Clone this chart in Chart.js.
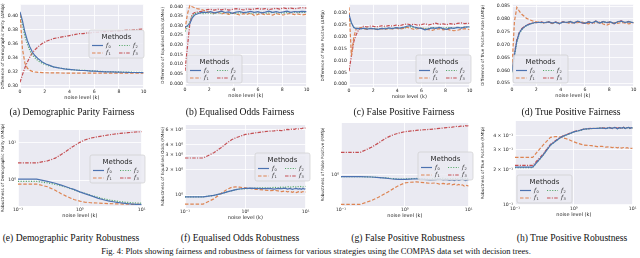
<!DOCTYPE html>
<html>
<head>
<meta charset="utf-8">
<script src="https://cdn.jsdelivr.net/npm/chart.js@4.4.0/dist/chart.umd.min.js"></script>
<style>
  body { margin:0; width:640px; height:258px; background:#fff; position:relative; overflow:hidden; font-family:"Liberation Serif", "DejaVu Serif", serif; }
  canvas { position:absolute; }
  .cap { position:absolute; font-size:9.6px; line-height:10px; color:#111; white-space:nowrap; transform:translateX(-50%); }
  .cap.fig { font-size:8.5px; }
</style>
</head>
<body>
<script>
// noise levels on the x axis
const noiseTop = [0,0.2,0.4,0.6,0.8,1,1.2,1.5,1.8,2.1,2.4,2.7,3,3.3,3.6,3.9,4.2,4.5,4.8,5.1,5.4,5.7,6,6.3,6.6,6.9,7.2,7.5,7.8,8.1,8.4,8.7,9,9.3,9.6,10];
const noiseBottom = [0.1,0.2,0.3,0.4,0.5,0.6,0.7,0.8,1,1.2,1.5,2,2.5,3,3.5,4,4.5,5,5.5,6,6.5,7,7.5,8,8.5,9,9.5,10];
const methods = ['0','1','2','3'];

// (a) demographic parity fairness
const dpFair0 = [0.405,0.392,0.376,0.364,0.355,0.348,0.343,0.338,0.334,0.331,0.329,0.327,0.326,0.325,0.324,0.3235,0.323,0.3225,0.322,0.3218,0.3215,0.321,0.321,0.3205,0.3202,0.320,0.320,0.3198,0.3196,0.3195,0.3193,0.3192,0.319,0.319,0.319,0.3188];
const dpFair1 = [0.402,0.352,0.332,0.325,0.322,0.3205,0.3198,0.3192,0.3188,0.3186,0.3185,0.3184,0.3183,0.3183,0.3182,0.3182,0.3181,0.3181,0.318,0.318,0.318,0.318,0.318,0.318,0.318,0.318,0.318,0.318,0.318,0.318,0.318,0.318,0.318,0.318,0.318,0.318];
const dpFair2 = [0.402,0.386,0.370,0.359,0.350,0.344,0.340,0.335,0.332,0.330,0.328,0.327,0.326,0.325,0.324,0.3235,0.323,0.3225,0.3222,0.322,0.3218,0.3215,0.321,0.3208,0.3205,0.3203,0.320,0.320,0.3198,0.3197,0.3196,0.3195,0.3194,0.3193,0.3192,0.319];
const dpFair3 = [0.305,0.316,0.326,0.334,0.341,0.347,0.351,0.356,0.360,0.363,0.365,0.367,0.368,0.369,0.370,0.371,0.372,0.373,0.374,0.374,0.375,0.375,0.376,0.376,0.3765,0.377,0.377,0.3775,0.378,0.378,0.3785,0.379,0.379,0.3795,0.380,0.3805];

// (b) equalised odds fairness
const eoFair0 = [0.029,0.030,0.031,0.034,0.0355,0.036,0.0365,0.037,0.0368,0.0372,0.0366,0.037,0.0375,0.0368,0.0371,0.0364,0.037,0.0373,0.0367,0.037,0.0374,0.0369,0.0372,0.0366,0.037,0.0375,0.0369,0.0372,0.0368,0.0371,0.0375,0.0369,0.0373,0.0371,0.0374,0.0372];
const eoFair1 = [0.028,0.036,0.0405,0.0398,0.0392,0.0388,0.0385,0.038,0.0372,0.0368,0.0365,0.037,0.036,0.0366,0.0358,0.0364,0.036,0.0355,0.0362,0.0358,0.0365,0.0352,0.0358,0.0362,0.0356,0.036,0.0354,0.0362,0.0358,0.0355,0.036,0.0363,0.0357,0.036,0.0355,0.0359];
const eoFair2 = [0.027,0.029,0.032,0.035,0.0362,0.0365,0.0368,0.0362,0.0366,0.0364,0.0361,0.0367,0.0363,0.0368,0.036,0.0366,0.0362,0.0368,0.0364,0.0366,0.0362,0.0367,0.0364,0.0368,0.0363,0.0366,0.0369,0.0364,0.0367,0.0365,0.0368,0.0366,0.037,0.0367,0.0369,0.0368];
const eoFair3 = [0.0065,0.019,0.031,0.036,0.0368,0.037,0.0372,0.0375,0.0383,0.0384,0.038,0.0385,0.0382,0.0386,0.038,0.0384,0.0388,0.0385,0.0381,0.0387,0.0384,0.0386,0.0389,0.0385,0.0388,0.0383,0.0387,0.039,0.0386,0.0392,0.0388,0.0391,0.0387,0.039,0.0393,0.0391];

// (c) false positive fairness
const fpFair0 = [0.0295,0.026,0.024,0.0235,0.0236,0.0234,0.0237,0.0233,0.0236,0.0234,0.0232,0.0236,0.0234,0.0238,0.0235,0.0239,0.0237,0.024,0.0245,0.0248,0.0242,0.0238,0.0236,0.023,0.0234,0.0238,0.0236,0.024,0.0235,0.0232,0.0238,0.0236,0.024,0.0237,0.0241,0.0243];
const fpFair1 = [0.0325,0.012,0.020,0.0235,0.024,0.0238,0.0235,0.0232,0.0236,0.0233,0.0231,0.0235,0.0232,0.0236,0.0234,0.0237,0.0233,0.0236,0.0241,0.0236,0.0232,0.0235,0.0237,0.0233,0.0231,0.0228,0.0232,0.0235,0.023,0.0233,0.0229,0.0226,0.0228,0.0232,0.0235,0.0231];
const fpFair2 = [0.028,0.0255,0.024,0.0237,0.0235,0.0236,0.0234,0.0237,0.0235,0.0236,0.0233,0.0235,0.0237,0.0234,0.0236,0.0238,0.0235,0.0237,0.024,0.0243,0.0239,0.0236,0.0238,0.0235,0.0237,0.024,0.0238,0.0241,0.0237,0.0239,0.024,0.0237,0.0241,0.0239,0.0242,0.0241];
const fpFair3 = [0.0055,0.012,0.018,0.021,0.023,0.024,0.0245,0.0242,0.0246,0.0244,0.0243,0.0247,0.0245,0.0248,0.0246,0.025,0.0247,0.0252,0.0255,0.0251,0.0254,0.0249,0.0252,0.0256,0.0251,0.0254,0.0258,0.0253,0.0255,0.0252,0.0256,0.0253,0.0257,0.0259,0.0256,0.0258];

// (d) true positive fairness
const tpFair0 = [0.0595,0.066,0.0715,0.0745,0.076,0.0768,0.0775,0.078,0.0785,0.0786,0.0787,0.0785,0.0788,0.0784,0.0787,0.0782,0.0788,0.0786,0.0789,0.0784,0.0791,0.0786,0.0783,0.0788,0.0785,0.0791,0.0784,0.0789,0.0786,0.0788,0.0782,0.0789,0.0791,0.0786,0.0789,0.0785];
const tpFair1 = [0.061,0.079,0.0845,0.083,0.0818,0.081,0.0802,0.0796,0.079,0.0788,0.0787,0.0784,0.0788,0.0782,0.0786,0.0785,0.0788,0.0786,0.0782,0.0787,0.0785,0.0789,0.0784,0.0781,0.0786,0.0783,0.0787,0.078,0.0776,0.0782,0.0785,0.0783,0.0786,0.0784,0.0781,0.0785];
const tpFair2 = [0.0592,0.0655,0.071,0.0742,0.0758,0.0767,0.0774,0.0781,0.0784,0.0787,0.0785,0.0786,0.0787,0.0785,0.0786,0.0783,0.0787,0.0787,0.0788,0.0785,0.079,0.0787,0.0784,0.0787,0.0786,0.079,0.0785,0.0788,0.0787,0.0787,0.0783,0.0788,0.079,0.0787,0.0788,0.0786];
const tpFair3 = [0.0598,0.0665,0.072,0.0748,0.0762,0.077,0.0776,0.0782,0.0786,0.0785,0.0788,0.0784,0.0789,0.0783,0.0788,0.0781,0.0789,0.0785,0.079,0.0783,0.0792,0.0785,0.0782,0.0789,0.0784,0.0792,0.0783,0.079,0.0785,0.0789,0.0781,0.079,0.0792,0.0785,0.079,0.0784];

// (e) demographic parity robustness
const dpRob0 = [1.06,1.06,0.92,0.82,0.73,0.66,0.6,0.56,0.48,0.43,0.38,0.32,0.29,0.27,0.26,0.25,0.245,0.24,0.235,0.23,0.228,0.226,0.224,0.222,0.221,0.22,0.22,0.219];
const dpRob1 = [0.78,0.78,0.66,0.53,0.43,0.37,0.33,0.3,0.27,0.255,0.245,0.24,0.235,0.232,0.23,0.228,0.227,0.226,0.225,0.224,0.223,0.222,0.222,0.221,0.221,0.22,0.22,0.22];
const dpRob2 = [0.92,0.92,0.84,0.77,0.7,0.64,0.59,0.55,0.48,0.44,0.39,0.34,0.31,0.29,0.28,0.27,0.262,0.257,0.252,0.25,0.247,0.245,0.243,0.241,0.24,0.238,0.238,0.237];
const dpRob3 = [2.9,2.9,3.3,3.9,4.9,6.0,7.2,8.3,10.4,12,13.6,14.8,15.8,16.6,17.2,17.7,18.1,18.4,18.7,19,19.2,19.4,19.6,19.8,19.9,20,20.1,20.2];

// (f) equalised odds robustness
const eoRob0 = [0.95,0.95,0.99,1.04,1.09,1.13,1.16,1.18,1.2,1.21,1.2,1.19,1.2,1.18,1.2,1.19,1.21,1.18,1.2,1.17,1.19,1.2,1.18,1.19,1.17,1.2,1.18,1.19];
const eoRob1 = [0.78,0.78,0.9,1.05,1.17,1.24,1.25,1.24,1.22,1.2,1.17,1.15,1.13,1.14,1.12,1.1,1.12,1.09,1.11,1.08,1.1,1.07,1.09,1.11,1.08,1.1,1.07,1.09];
const eoRob2 = [0.95,0.95,0.99,1.04,1.09,1.13,1.16,1.18,1.19,1.2,1.21,1.22,1.21,1.24,1.22,1.25,1.23,1.26,1.24,1.25,1.27,1.24,1.26,1.25,1.27,1.25,1.26,1.27];
const eoRob3 = [2.77,2.77,3.2,3.7,4.2,4.6,4.85,5.0,5.3,5.4,5.55,5.7,5.8,5.85,5.95,5.9,6.0,6.1,6.05,6.15,6.1,6.2,6.15,6.25,6.2,6.3,6.25,6.35];

// (g) false positive robustness
const fpRob0 = [0.93,0.93,0.92,0.9,0.88,0.86,0.85,0.84,0.84,0.85,0.86,0.84,0.82,0.83,0.85,0.82,0.84,0.81,0.83,0.8,0.84,0.81,0.83,0.85,0.82,0.8,0.83,0.82];
const fpRob1 = [0.32,0.32,0.37,0.43,0.49,0.55,0.61,0.66,0.73,0.75,0.76,0.74,0.72,0.73,0.7,0.72,0.69,0.71,0.68,0.7,0.67,0.69,0.66,0.68,0.65,0.67,0.66,0.65];
const fpRob2 = [0.93,0.93,0.92,0.9,0.89,0.87,0.86,0.85,0.85,0.86,0.87,0.86,0.85,0.87,0.86,0.88,0.85,0.87,0.86,0.88,0.85,0.87,0.89,0.86,0.88,0.87,0.86,0.88];
const fpRob3 = [2.38,2.38,2.9,3.5,4.1,4.5,4.8,5.0,5.3,5.4,5.55,5.7,5.8,5.9,6.0,6.1,6.2,6.25,6.3,6.4,6.5,6.45,6.55,6.6,6.5,6.7,6.6,6.7];

// (h) true positive robustness
const tpRob0 = [0.212,0.212,0.27,0.33,0.36,0.385,0.4,0.41,0.43,0.44,0.455,0.46,0.462,0.465,0.46,0.468,0.462,0.47,0.458,0.468,0.464,0.47,0.46,0.467,0.471,0.462,0.468,0.465];
const tpRob1 = [0.258,0.258,0.33,0.385,0.392,0.386,0.378,0.37,0.352,0.34,0.33,0.326,0.32,0.322,0.316,0.318,0.314,0.317,0.312,0.316,0.31,0.314,0.309,0.313,0.31,0.312,0.308,0.31];
const tpRob2 = [0.21,0.21,0.268,0.328,0.358,0.383,0.399,0.409,0.429,0.439,0.454,0.459,0.463,0.464,0.461,0.467,0.463,0.469,0.459,0.467,0.465,0.469,0.461,0.466,0.47,0.463,0.467,0.466];
const tpRob3 = [0.219,0.219,0.275,0.335,0.364,0.388,0.403,0.413,0.432,0.442,0.456,0.462,0.46,0.467,0.463,0.47,0.46,0.472,0.462,0.47,0.458,0.472,0.463,0.468,0.474,0.46,0.47,0.464];

// tick values and labels
const xTicksTop = [0,2,4,6,8,10];
const xLabelsTop = ['0','2','4','6','8','10'];
const xTicksBottom = [0.1,1,10];
const xLabelsBottom = ['10\u207B\u00B9','10\u2070','10\u00B9'];
const yTicksA = [0.30,0.32,0.34,0.36,0.38,0.40];
const yLabelsA = ['0.30','0.32','0.34','0.36','0.38','0.40'];
const yTicksB = [0,0.005,0.01,0.015,0.02,0.025,0.03,0.035,0.04];
const yLabelsB = ['0.000','0.005','0.010','0.015','0.020','0.025','0.030','0.035','0.040'];
const yTicksC = [0,0.005,0.01,0.015,0.02,0.025,0.03];
const yLabelsC = ['0.000','0.005','0.010','0.015','0.020','0.025','0.030'];
const yTicksD = [0.055,0.06,0.065,0.07,0.075,0.08,0.085];
const yLabelsD = ['0.055','0.060','0.065','0.070','0.075','0.080','0.085'];
const yTicksE = [1,10];
const yLabelsE = ['10\u2070','10\u00B9'];
const yTicksF = [1,2,3,4,6];
const yLabelsF = ['10\u2070','2 \u00D7 10\u2070','3 \u00D7 10\u2070','4 \u00D7 10\u2070','6 \u00D7 10\u2070'];
const yTicksG = [1];
const yLabelsG = ['10\u2070'];
const yTicksH = [0.1,0.2,0.3,0.4];
const yLabelsH = ['10\u207B\u00B9','2 \u00D7 10\u207B\u00B9','3 \u00D7 10\u207B\u00B9','4 \u00D7 10\u207B\u00B9'];

// line look of each method (seaborn deep palette)
const lineStyles = [
  {color:'#4C72B0', dash:[]},
  {color:'#DD8452', dash:[3.5,1.8]},
  {color:'#55A868', dash:[1.1,1.5]},
  {color:'#C44E52', dash:[3.5,1.3,1.1,1.3]}
];

Chart.defaults.font.family = '"DejaVu Sans", sans-serif';
Chart.defaults.color = '#262626';

// grey plot background like seaborn darkgrid
const panelBg = {
  id: 'panelBg',
  beforeDraw(chart) {
    const a = chart.chartArea, ctx = chart.ctx;
    ctx.save();
    ctx.fillStyle = '#EAEAF2';
    ctx.fillRect(a.left, a.top, a.right - a.left, a.bottom - a.top);
    ctx.restore();
  }
};

// legend box with "Methods" title, two columns
const methodsLegend = {
  id: 'methodsLegend',
  afterDatasetsDraw(chart, args, opts) {
    const ctx = chart.ctx;
    const x = opts.x, y = opts.y, w = 55, h = 28;
    ctx.save();
    ctx.beginPath();
    ctx.roundRect(x, y, w, h, 2);
    ctx.fillStyle = 'rgba(234,234,242,0.85)';
    ctx.fill();
    ctx.strokeStyle = '#cfcfcf';
    ctx.lineWidth = 0.7;
    ctx.stroke();
    ctx.fillStyle = '#262626';
    ctx.font = '7px "DejaVu Sans"';
    ctx.textAlign = 'center';
    ctx.textBaseline = 'middle';
    ctx.fillText('Methods', x + w / 2, y + 7);
    chart.data.datasets.forEach((ds, i) => {
      const col = Math.floor(i / 2), row = i % 2;
      const hx = x + 3 + col * 27, hy = y + 15.5 + row * 7.5;
      ctx.beginPath();
      ctx.setLineDash(lineStyles[i].dash);
      ctx.strokeStyle = lineStyles[i].color;
      ctx.lineWidth = 1.2;
      ctx.moveTo(hx, hy);
      ctx.lineTo(hx + 11, hy);
      ctx.stroke();
      ctx.setLineDash([]);
      ctx.fillStyle = '#262626';
      ctx.textAlign = 'left';
      ctx.font = 'italic 5.5px "DejaVu Serif"';
      ctx.fillText('f', hx + 14, hy);
      ctx.font = '3.5px "DejaVu Sans"';
      ctx.fillText(ds.label, hx + 16.5, hy + 1.5);
    });
    ctx.restore();
  }
};

function fixedTicks(vals) {
  return function(scale) { scale.ticks = vals.map(v => ({value: v})); };
}

function makePanel(p) {
  const cv = document.createElement('canvas');
  cv.width = p.w; cv.height = p.h;
  cv.style.left = p.left + 'px';
  cv.style.top = p.top + 'px';
  document.body.appendChild(cv);

  const datasets = p.series.map((vals, i) => ({
    label: methods[i],
    data: p.xs.map((x, j) => ({x: x, y: vals[j]})),
    borderColor: lineStyles[i].color,
    borderDash: lineStyles[i].dash,
    borderWidth: 1.2,
    pointRadius: 0,
    tension: 0,
    fill: false
  }));

  const grid = {color: '#ffffff', lineWidth: 0.8, drawTicks: false};
  new Chart(cv, {
    type: 'line',
    data: {datasets: datasets},
    options: {
      responsive: false,
      animation: false,
      devicePixelRatio: 1,
      layout: {padding: {top: p.padTop, right: 1, left: 0, bottom: 0}},
      plugins: {
        legend: {display: false},
        tooltip: {enabled: false},
        methodsLegend: {x: p.legX, y: p.legY}
      },
      scales: {
        x: {
          type: p.xLog ? 'logarithmic' : 'linear',
          min: p.xLog ? 0.1 : 0, max: 10,
          grid: grid, border: {display: false},
          afterBuildTicks: fixedTicks(p.xLog ? xTicksBottom : xTicksTop),
          afterFit: s => { s.height = 13; },
          ticks: {
            autoSkip: false, maxRotation: 0, padding: 1.5,
            font: {size: 4.6},
            callback: (v, i) => (p.xLog ? xLabelsBottom : xLabelsTop)[i]
          },
          title: {display: true, text: 'noise level (k)', font: {size: 5}, padding: 0}
        },
        y: {
          type: p.yLog ? 'logarithmic' : 'linear',
          min: p.yMin, max: p.yMax,
          grid: grid, border: {display: false},
          afterBuildTicks: fixedTicks(p.yTicks),
          afterFit: s => { s.width = p.yw; },
          ticks: {
            autoSkip: false, padding: 2,
            font: {size: 4.6},
            callback: (v, i) => p.yLabels[i]
          },
          title: {display: true, text: p.yTitle, font: {size: 4.2}, padding: 0}
        }
      }
    },
    plugins: [panelBg, methodsLegend]
  });
}

const panels = [
  {left:0, top:0, w:148, h:101, padTop:3, yw:20, xs:noiseTop, series:[dpFair0,dpFair1,dpFair2,dpFair3],
   yMin:0.297, yMax:0.415, yTicks:yTicksA, yLabels:yLabelsA, legX:89, legY:30,
   yTitle:'Difference of Demographic Parity (\u0394Mdp)'},
  {left:160, top:0, w:151, h:99, padTop:1, yw:25, xs:noiseTop, series:[eoFair0,eoFair1,eoFair2,eoFair3],
   yMin:-0.0013, yMax:0.0408, yTicks:yTicksB, yLabels:yLabelsB, legX:27, legY:55,
   yTitle:'Difference of Equalised Odds (\u0394Meo)'},
  {left:320, top:0, w:154, h:100, padTop:1, yw:29, xs:noiseTop, series:[fpFair0,fpFair1,fpFair2,fpFair3],
   yMin:-0.0012, yMax:0.0336, yTicks:yTicksC, yLabels:yLabelsC, legX:96, legY:55,
   yTitle:'Difference of False Positive (\u0394Mfp)'},
  {left:480, top:0, w:158, h:99, padTop:0, yw:32, xs:noiseTop, series:[tpFair0,tpFair1,tpFair2,tpFair3],
   yMin:0.0539, yMax:0.0855, yTicks:yTicksD, yLabels:yLabelsD, legX:33, legY:55,
   yTitle:'Difference of True Positive Rate (\u0394Mtp)'},
  {left:0, top:115, w:147, h:104, padTop:15, yw:18, xs:noiseBottom, xLog:true, yLog:true, series:[dpRob0,dpRob1,dpRob2,dpRob3],
   yMin:0.2, yMax:22.4, yTicks:yTicksE, yLabels:yLabelsE, legX:90, legY:40,
   yTitle:'Robustness of Demographic Parity (RMdp)'},
  {left:160, top:115, w:151, h:106, padTop:10, yw:25, xs:noiseBottom, xLog:true, yLog:true, series:[eoRob0,eoRob1,eoRob2,eoRob3],
   yMin:0.715, yMax:6.87, yTicks:yTicksF, yLabels:yLabelsF, legX:95, legY:38,
   yTitle:'Robustness of Equalised Odds (RMeo)'},
  {left:320, top:115, w:154, h:104, padTop:8, yw:21, xs:noiseBottom, xLog:true, yLog:true, series:[fpRob0,fpRob1,fpRob2,fpRob3],
   yMin:0.31, yMax:7.4, yTicks:yTicksG, yLabels:yLabelsG, legX:98, legY:37,
   yTitle:'Robustness of False Positive (RMfp)'},
  {left:480, top:115, w:158, h:103, padTop:6, yw:35, xs:noiseBottom, xLog:true, yLog:true, series:[tpRob0,tpRob1,tpRob2,tpRob3],
   yMin:0.099, yMax:0.535, yTicks:yTicksH, yLabels:yLabelsH, legX:37, legY:60,
   yTitle:'Robustness of True Positive (RMtp)'}
];
panels.forEach(makePanel);

// sub-figure captions and figure caption
const captions = [
  ['(a) Demographic Parity Fairness', 72, 107, ''],
  ['(b) Equalised Odds Fairness', 240, 107, ''],
  ['(c) False Positive Fairness', 404, 107, ''],
  ['(d) True Positive Fairness', 571, 107, ''],
  ['(e) Demographic Parity Robustness', 71, 233, ''],
  ['(f) Equalised Odds Robustness', 240, 233, ''],
  ['(g) False Positive Robustness', 408, 233, ''],
  ['(h) True Positive Robustness', 572, 233, ''],
  ['Fig. 4: Plots showing fairness and robustness of fairness for various strategies using the COMPAS data set with decision trees.', 316, 245.5, 'fig']
];
captions.forEach(c => {
  const d = document.createElement('div');
  d.className = 'cap ' + c[3];
  d.textContent = c[0];
  d.style.left = c[1] + 'px';
  d.style.top = c[2] + 'px';
  document.body.appendChild(d);
});
</script>
</body>
</html>
